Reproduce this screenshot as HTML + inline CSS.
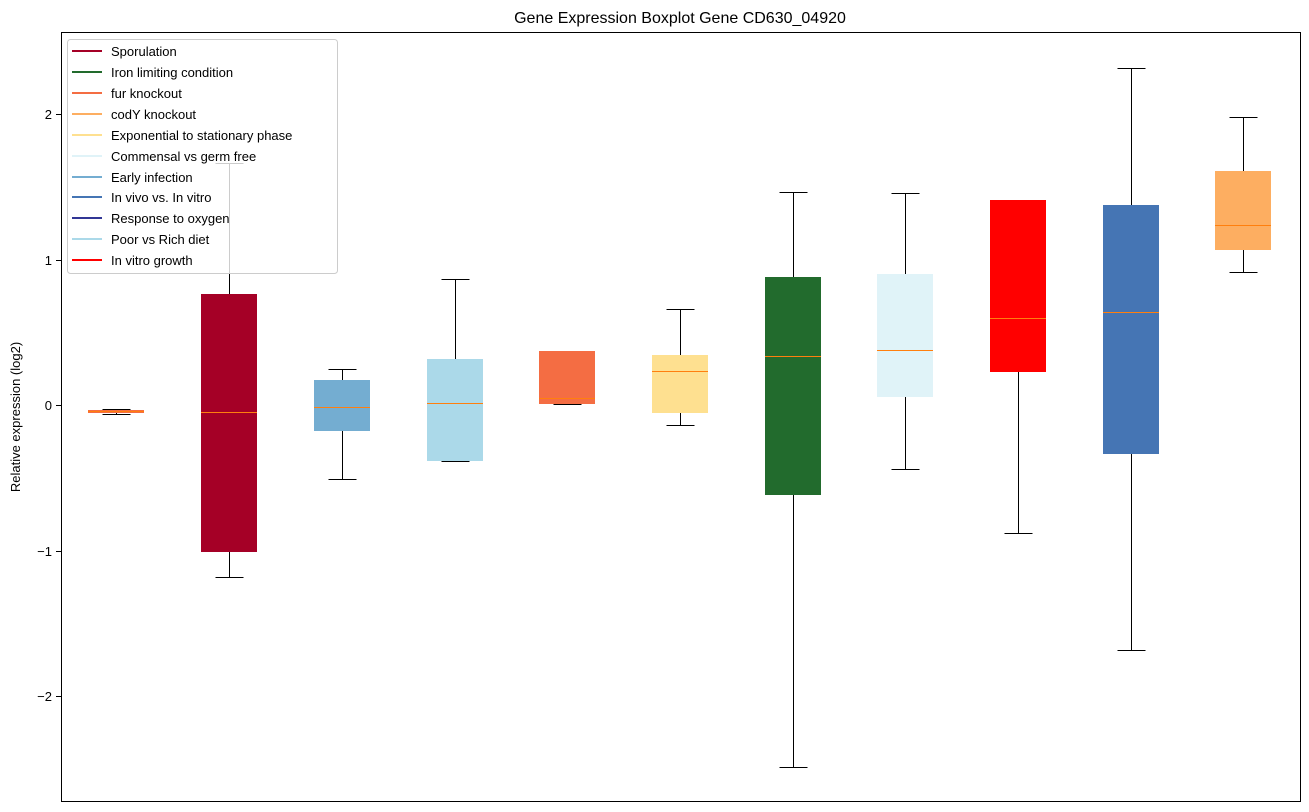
<!DOCTYPE html>
<html><head><meta charset="utf-8"><style>body{margin:0;background:#fff}svg{display:block;font-family:"Liberation Sans","DejaVu Sans",sans-serif}</style></head>
<body>
<svg width="1309" height="812" xmlns="http://www.w3.org/2000/svg">
<rect width="1309" height="812" fill="#fff"/>
<text x="680" y="23" font-size="16" text-anchor="middle">Gene Expression Boxplot Gene CD630_04920</text>
<g stroke="#000" stroke-width="1">
<line x1="61" y1="114.5" x2="56" y2="114.5"/><line x1="61" y1="260.5" x2="56" y2="260.5"/><line x1="61" y1="405.5" x2="56" y2="405.5"/><line x1="61" y1="551.5" x2="56" y2="551.5"/><line x1="61" y1="696.5" x2="56" y2="696.5"/>
</g>
<g font-size="13" text-anchor="end">
<text x="52" y="119">2</text><text x="52" y="265">1</text><text x="52" y="410">0</text><text x="52" y="556">−1</text><text x="52" y="701">−2</text>
</g>
<text transform="translate(20,417) rotate(-90)" font-size="13" text-anchor="middle">Relative expression (log2)</text>
<g stroke="#000" stroke-width="1" transform="translate(0.5,0.5)">
<line x1="116" y1="409" x2="116" y2="414"/><line x1="102" y1="409" x2="130" y2="409"/><line x1="102" y1="414" x2="130" y2="414"/>
<line x1="229" y1="163" x2="229" y2="577"/><line x1="215" y1="163" x2="243" y2="163"/><line x1="215" y1="577" x2="243" y2="577"/>
<line x1="342" y1="369" x2="342" y2="479"/><line x1="328" y1="369" x2="356" y2="369"/><line x1="328" y1="479" x2="356" y2="479"/>
<line x1="455" y1="279" x2="455" y2="461"/><line x1="441" y1="279" x2="469" y2="279"/><line x1="441" y1="461" x2="469" y2="461"/>
<line x1="553" y1="351" x2="581" y2="351"/><line x1="553" y1="404" x2="581" y2="404"/>
<line x1="680" y1="309" x2="680" y2="425"/><line x1="666" y1="309" x2="694" y2="309"/><line x1="666" y1="425" x2="694" y2="425"/>
<line x1="793" y1="192" x2="793" y2="767"/><line x1="779" y1="192" x2="807" y2="192"/><line x1="779" y1="767" x2="807" y2="767"/>
<line x1="905" y1="193" x2="905" y2="469"/><line x1="891" y1="193" x2="919" y2="193"/><line x1="891" y1="469" x2="919" y2="469"/>
<line x1="1018" y1="200" x2="1018" y2="533"/><line x1="1004" y1="200" x2="1032" y2="200"/><line x1="1004" y1="533" x2="1032" y2="533"/>
<line x1="1131" y1="68" x2="1131" y2="650"/><line x1="1117" y1="68" x2="1145" y2="68"/><line x1="1117" y1="650" x2="1145" y2="650"/>
<line x1="1243" y1="117" x2="1243" y2="272"/><line x1="1229" y1="117" x2="1257" y2="117"/><line x1="1229" y1="272" x2="1257" y2="272"/>
</g>
<g>
<rect x="88" y="410" width="56" height="3" fill="#f46d43"/>
<rect x="201" y="294" width="56" height="258" fill="#a50026"/>
<rect x="314" y="380" width="56" height="51" fill="#74add1"/>
<rect x="427" y="359" width="56" height="102" fill="#abd9e9"/>
<rect x="539" y="351" width="56" height="53" fill="#f46d43"/>
<rect x="652" y="355" width="56" height="58" fill="#fee090"/>
<rect x="765" y="277" width="56" height="218" fill="#226b2d"/>
<rect x="877" y="274" width="56" height="123" fill="#e0f3f8"/>
<rect x="990" y="200" width="56" height="172" fill="#ff0000"/>
<rect x="1103" y="205" width="56" height="249" fill="#4575b4"/>
<rect x="1215" y="171" width="56" height="79" fill="#fdae61"/>
</g>
<g stroke="#ff7f0e" stroke-width="1" transform="translate(0,0.5)">
<line x1="88" y1="411" x2="144" y2="411"/><line x1="201" y1="412" x2="257" y2="412"/><line x1="314" y1="407" x2="370" y2="407"/><line x1="427" y1="403" x2="483" y2="403"/><line x1="539" y1="398" x2="595" y2="398"/><line x1="652" y1="371" x2="708" y2="371"/><line x1="765" y1="356" x2="821" y2="356"/><line x1="877" y1="350" x2="933" y2="350"/><line x1="990" y1="318" x2="1046" y2="318"/><line x1="1103" y1="312" x2="1159" y2="312"/><line x1="1215" y1="225" x2="1271" y2="225"/>
</g>
<rect x="61.5" y="32.5" width="1239" height="769" fill="none" stroke="#000"/>
<rect x="67.5" y="39.5" width="270" height="234" rx="3" fill="#fff" fill-opacity="0.8" stroke="#ccc"/>
<g stroke-width="2">
<line x1="72" y1="51" x2="102" y2="51" stroke="#a50026"/>
<line x1="72" y1="72" x2="102" y2="72" stroke="#226b2d"/>
<line x1="72" y1="93" x2="102" y2="93" stroke="#f46d43"/>
<line x1="72" y1="114" x2="102" y2="114" stroke="#fdae61"/>
<line x1="72" y1="135" x2="102" y2="135" stroke="#fee090"/>
<line x1="72" y1="156" x2="102" y2="156" stroke="#e0f3f8"/>
<line x1="72" y1="177" x2="102" y2="177" stroke="#74add1"/>
<line x1="72" y1="197" x2="102" y2="197" stroke="#4575b4"/>
<line x1="72" y1="218" x2="102" y2="218" stroke="#313695"/>
<line x1="72" y1="239" x2="102" y2="239" stroke="#abd9e9"/>
<line x1="72" y1="260" x2="102" y2="260" stroke="#ff0000"/>
</g>
<g font-size="13">
<text x="111" y="56">Sporulation</text>
<text x="111" y="77">Iron limiting condition</text>
<text x="111" y="98">fur knockout</text>
<text x="111" y="119">codY knockout</text>
<text x="111" y="140">Exponential to stationary phase</text>
<text x="111" y="161">Commensal vs germ free</text>
<text x="111" y="182">Early infection</text>
<text x="111" y="202">In vivo vs. In vitro</text>
<text x="111" y="223">Response to oxygen</text>
<text x="111" y="244">Poor vs Rich diet</text>
<text x="111" y="265">In vitro growth</text>
</g>
</svg>
</body></html>
